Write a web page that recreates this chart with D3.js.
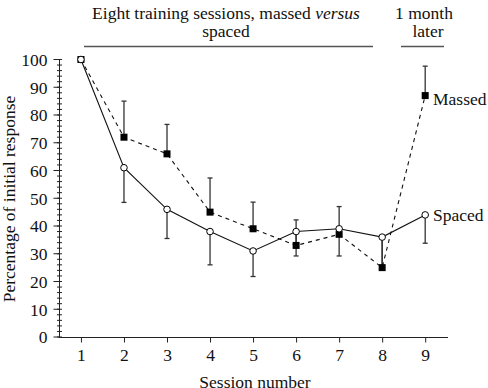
<html>
  <head>
    <meta charset="utf-8">
    <script src="https://cdn.jsdelivr.net/npm/d3@7/dist/d3.min.js"></script>
    <style>
      body { margin: 0; background: #fff; }
    </style>
  </head>
  <body>
    <script>
      var w = 488, h = 388;
      var serif = "'Liberation Serif', 'Times New Roman', serif";

      var sessions = [1, 2, 3, 4, 5, 6, 7, 8, 9];
      var massed = [100, 72, 66, 45, 39, 33, 37, 25, 87];
      var massedErrTop = [null, 85, 76.6, 57.3, 48.6, 42.2, 47, 36, 97.6];
      var spaced = [100, 61, 46, 38, 31, 38, 39, 36, 44];
      var spacedErrBottom = [null, 48.5, 35.5, 26, 21.8, 29.2, 29.2, 25.5, 33.8];
      var yTicks = [0, 10, 20, 30, 40, 50, 60, 70, 80, 90, 100];

      var x = d3.scaleLinear().domain([0.49, 9.53]).range([59, 448]);
      var y = d3.scaleLinear().domain([0, 100]).range([337, 59.5]);

      var svg = d3.select("body").append("svg")
                  .attr("width", w).attr("height", h);

      function label(sel) {
        return sel.style("font-family", serif).style("font-size", "17.5px").attr("fill", "#111");
      }

      // eixo y com ticks menores a cada 2
      var yAxis = svg.append("g").attr("transform", "translate(59.5,0)");
      yAxis.append("line").attr("x1", 0).attr("x2", 0)
           .attr("y1", y(0)).attr("y2", y(100)).attr("stroke", "#222");
      yAxis.selectAll(".minor").data(d3.range(0, 101, 2)).enter().append("line")
           .attr("x1", -2.5).attr("x2", 2.5)
           .attr("y1", function(d) { return y(d); }).attr("y2", function(d) { return y(d); })
           .attr("stroke", "#222");
      yAxis.selectAll(".major").data(yTicks).enter().append("line")
           .attr("x1", -6).attr("x2", 0)
           .attr("y1", function(d) { return y(d); }).attr("y2", function(d) { return y(d); })
           .attr("stroke", "#222");
      label(yAxis.selectAll("text").data(yTicks).enter().append("text")
           .attr("x", -12).attr("y", function(d) { return y(d); })
           .attr("dy", "0.36em").attr("text-anchor", "end")
           .text(function(d) { return d; }));

      // eixo x
      var xAxis = d3.axisBottom(x).tickValues(sessions).tickSize(5).tickPadding(6)
                    .tickFormat(d3.format("d"));
      var gx = svg.append("g").attr("transform", "translate(0,337.5)").call(xAxis);
      gx.select(".domain").attr("d", "M59,0H448").attr("stroke", "#222");
      gx.selectAll(".tick line").attr("stroke", "#222");
      label(gx.selectAll(".tick text"));

      label(svg.append("text").attr("x", 255).attr("y", 388).attr("text-anchor", "middle")
         .text("Session number"));
      label(svg.append("text").attr("transform", "translate(15,199) rotate(-90)")
         .attr("text-anchor", "middle")
         .text("Percentage of initial response"));

      // anotacoes do topo
      var top1 = label(svg.append("text").attr("x", 226).attr("y", 19)
                    .attr("text-anchor", "middle"));
      top1.append("tspan").text("Eight training sessions, massed ");
      top1.append("tspan").style("font-style", "italic").text("versus");
      label(svg.append("text").attr("x", 226).attr("y", 36.5).attr("text-anchor", "middle")
         .text("spaced"));
      label(svg.append("text").attr("x", 424).attr("y", 19).attr("text-anchor", "middle")
         .text("1 month"));
      label(svg.append("text").attr("x", 428).attr("y", 36.5).attr("text-anchor", "middle")
         .text("later"));
      svg.append("line").attr("x1", 84).attr("x2", 373).attr("y1", 46.5).attr("y2", 46.5)
         .attr("stroke", "#555").attr("stroke-width", 1.5);
      svg.append("line").attr("x1", 401).attr("x2", 444).attr("y1", 46.5).attr("y2", 46.5)
         .attr("stroke", "#555").attr("stroke-width", 1.5);

      // barras de erro
      function errBars(vals, ends) {
        var data = sessions.map(function(s, i) { return { s: s, v: vals[i], e: ends[i] }; })
                           .filter(function(d) { return d.e != null; });
        var g = svg.append("g").attr("stroke", "#333").attr("stroke-width", 1.3);
        g.selectAll(".v").data(data).enter().append("line")
         .attr("x1", function(d) { return x(d.s); }).attr("x2", function(d) { return x(d.s); })
         .attr("y1", function(d) { return y(d.v); }).attr("y2", function(d) { return y(d.e); });
        g.selectAll(".c").data(data).enter().append("line")
         .attr("x1", function(d) { return x(d.s) - 2.5; }).attr("x2", function(d) { return x(d.s) + 2.5; })
         .attr("y1", function(d) { return y(d.e); }).attr("y2", function(d) { return y(d.e); });
      }
      errBars(massed, massedErrTop);
      errBars(spaced, spacedErrBottom);

      var line = d3.line()
                   .x(function(d, i) { return x(sessions[i]); })
                   .y(function(d) { return y(d); });

      svg.append("path").attr("d", line(massed)).attr("fill", "none")
         .attr("stroke", "#111").attr("stroke-width", 1.1).attr("stroke-dasharray", "4,4");
      svg.append("path").attr("d", line(spaced)).attr("fill", "none")
         .attr("stroke", "#111").attr("stroke-width", 1.1);

      svg.selectAll(".sq").data(massed).enter().append("rect")
         .attr("x", function(d, i) { return x(sessions[i]) - 3.5; })
         .attr("y", function(d) { return y(d) - 3.5; })
         .attr("width", 7).attr("height", 7).attr("fill", "#000");
      svg.selectAll(".ci").data(spaced).enter().append("circle")
         .attr("cx", function(d, i) { return x(sessions[i]); })
         .attr("cy", function(d) { return y(d); })
         .attr("r", 3.3).attr("fill", "#fff").attr("stroke", "#000").attr("stroke-width", 1);

      label(svg.append("text").attr("x", 433).attr("y", 105).text("Massed"));
      label(svg.append("text").attr("x", 433).attr("y", 221).text("Spaced"));
    </script>
  </body>
</html>
